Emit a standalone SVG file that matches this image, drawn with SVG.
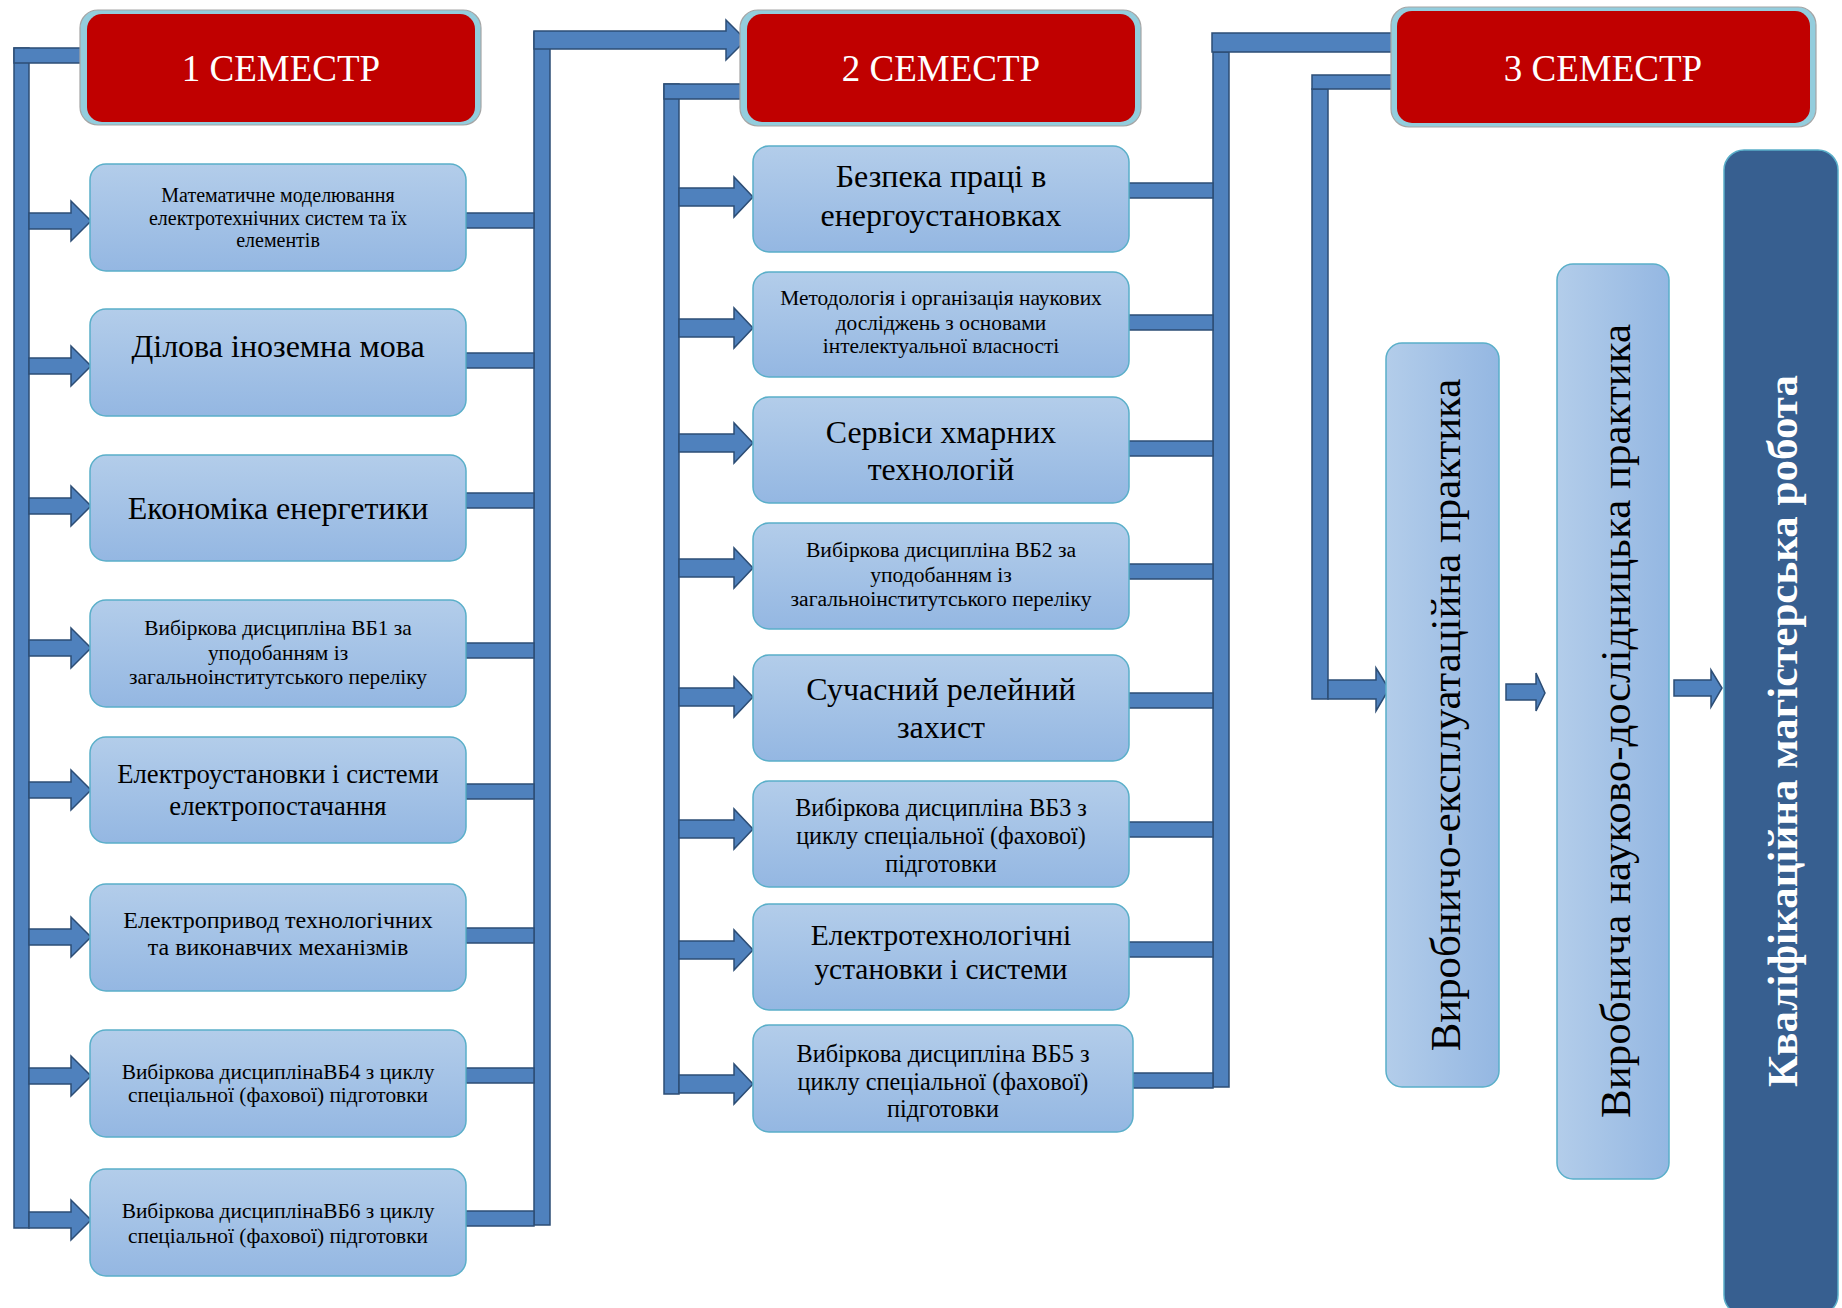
<svg xmlns="http://www.w3.org/2000/svg" width="1842" height="1308" viewBox="0 0 1842 1308">
<defs>
<linearGradient id="gv" x1="0" y1="0" x2="0" y2="1"><stop offset="0" stop-color="#B3CDEA"/><stop offset="1" stop-color="#94B7E2"/></linearGradient>
<linearGradient id="gh" x1="0" y1="0" x2="1" y2="0"><stop offset="0" stop-color="#B3CDEA"/><stop offset="1" stop-color="#94B7E2"/></linearGradient>
<style>
.bar{fill:#4F81BD;stroke:#2C4D75;stroke-width:1.5}
.box{fill:url(#gv);stroke:#5AAFC9;stroke-width:1.5}
.pbox{fill:url(#gh);stroke:#5AAFC9;stroke-width:1.5}
.ring{fill:#93CDDD;stroke:#A5A5A5;stroke-width:1.2}
.red{fill:#C00000}
.t{font-family:"Liberation Serif","Times New Roman",serif;fill:#000;text-anchor:middle}
.sem{font-family:"Liberation Serif","Times New Roman",serif;fill:#fff;text-anchor:middle;font-size:37px}
</style>
</defs>
<rect width="1842" height="1308" fill="#fff"/>

<g id="connectors">
<!-- column 1 left -->
<rect class="bar" x="14" y="48" width="15" height="1180"/>
<rect class="bar" x="14" y="48" width="72" height="15"/>
<path class="bar" d="M29,213H71V201L91,221L71,241V229H29Z"/>
<path class="bar" d="M29,358H71V346L91,366L71,386V374H29Z"/>
<path class="bar" d="M29,498H71V486L91,506L71,526V514H29Z"/>
<path class="bar" d="M29,640H71V628L91,648L71,668V656H29Z"/>
<path class="bar" d="M29,782H71V770L91,790L71,810V798H29Z"/>
<path class="bar" d="M29,929H71V917L91,937L71,957V945H29Z"/>
<path class="bar" d="M29,1068H71V1056L91,1076L71,1096V1084H29Z"/>
<path class="bar" d="M29,1212H71V1200L91,1220L71,1240V1228H29Z"/>
<!-- column 1 right -->
<rect class="bar" x="534" y="32" width="16" height="1193"/>
<rect class="bar" x="466" y="213" width="68" height="15"/>
<rect class="bar" x="466" y="353" width="68" height="15"/>
<rect class="bar" x="466" y="493" width="68" height="15"/>
<rect class="bar" x="466" y="643" width="68" height="15"/>
<rect class="bar" x="466" y="784" width="68" height="15"/>
<rect class="bar" x="466" y="928" width="68" height="15"/>
<rect class="bar" x="466" y="1068" width="68" height="15"/>
<rect class="bar" x="466" y="1211" width="68" height="15"/>
<path class="bar" d="M534,31H726V20L746,40L726,60V49H534Z"/>
<!-- column 2 left -->
<rect class="bar" x="664" y="84" width="15" height="1010"/>
<rect class="bar" x="664" y="84" width="84" height="15"/>
<path class="bar" d="M679,188H734V177L753,197L734,217V206H679Z"/>
<path class="bar" d="M679,319H734V308L753,328L734,348V337H679Z"/>
<path class="bar" d="M679,434H734V423L753,443L734,463V452H679Z"/>
<path class="bar" d="M679,559H734V548L753,568L734,588V577H679Z"/>
<path class="bar" d="M679,688H734V677L753,697L734,717V706H679Z"/>
<path class="bar" d="M679,820H734V809L753,829L734,849V838H679Z"/>
<path class="bar" d="M679,941H734V930L753,950L734,970V959H679Z"/>
<path class="bar" d="M679,1075H734V1064L753,1084L734,1104V1093H679Z"/>
<!-- column 2 right -->
<rect class="bar" x="1213" y="52" width="16" height="1035"/>
<rect class="bar" x="1212" y="33" width="184" height="19"/>
<rect class="bar" x="1129" y="183" width="84" height="15"/>
<rect class="bar" x="1129" y="315" width="84" height="15"/>
<rect class="bar" x="1129" y="441" width="84" height="15"/>
<rect class="bar" x="1129" y="564" width="84" height="15"/>
<rect class="bar" x="1129" y="693" width="84" height="15"/>
<rect class="bar" x="1129" y="822" width="84" height="15"/>
<rect class="bar" x="1129" y="942" width="84" height="15"/>
<rect class="bar" x="1133" y="1073" width="80" height="15"/>
<!-- semester 3 to practice -->
<rect class="bar" x="1312" y="89" width="16" height="610"/>
<rect class="bar" x="1312" y="75" width="84" height="14"/>
<path class="bar" d="M1328,680H1376V668L1389,689L1376,711V699H1328Z"/>
<path class="bar" d="M1506,684H1536V673L1545,693L1536,711V700H1506Z"/>
<path class="bar" d="M1674,680H1711V670L1722,688L1711,707V696H1674Z"/>
</g>

<g id="sem1"><rect class="ring" x="80" y="10" width="401" height="115" rx="18"/><rect class="red" x="87" y="14" width="388" height="108" rx="15"/><text class="sem" x="281" y="81">1 СЕМЕСТР</text></g>
<g id="sem2"><rect class="ring" x="740" y="10" width="401" height="116" rx="18"/><rect class="red" x="747" y="14" width="388" height="108" rx="15"/><text class="sem" x="941" y="81">2 СЕМЕСТР</text></g>
<g id="sem3"><rect class="ring" x="1391" y="7" width="425" height="120" rx="18"/><rect class="red" x="1397" y="11" width="413" height="112" rx="15"/><text class="sem" x="1603" y="81">3 СЕМЕСТР</text></g>

<g id="c1b1"><rect class="box" x="90" y="164" width="376" height="107" rx="16"/><text class="t" font-size="20"><tspan x="278" y="202">Математичне моделювання</tspan><tspan x="278" y="225">електротехнічних систем та їх</tspan><tspan x="278" y="247">елементів</tspan></text></g>
<g id="c1b2"><rect class="box" x="90" y="309" width="376" height="107" rx="16"/><text class="t" font-size="32" x="278" y="357">Ділова іноземна мова</text></g>
<g id="c1b3"><rect class="box" x="90" y="455" width="376" height="106" rx="16"/><text class="t" font-size="32" x="278" y="519">Економіка енергетики</text></g>
<g id="c1b4"><rect class="box" x="90" y="600" width="376" height="107" rx="16"/><text class="t" font-size="21.4"><tspan x="278" y="635">Вибіркова дисципліна ВБ1 за</tspan><tspan x="278" y="660">уподобанням із</tspan><tspan x="278" y="684">загальноінститутського переліку</tspan></text></g>
<g id="c1b5"><rect class="box" x="90" y="737" width="376" height="106" rx="16"/><text class="t" font-size="26.7"><tspan x="278" y="783">Електроустановки і системи</tspan><tspan x="278" y="815">електропостачання</tspan></text></g>
<g id="c1b6"><rect class="box" x="90" y="884" width="376" height="107" rx="16"/><text class="t" font-size="24"><tspan x="278" y="928">Електропривод технологічних</tspan><tspan x="278" y="955">та виконавчих механізмів</tspan></text></g>
<g id="c1b7"><rect class="box" x="90" y="1030" width="376" height="107" rx="16"/><text class="t" font-size="21.4"><tspan x="278" y="1079">Вибіркова дисциплінаВБ4 з циклу</tspan><tspan x="278" y="1102">спеціальної (фахової) підготовки</tspan></text></g>
<g id="c1b8"><rect class="box" x="90" y="1169" width="376" height="107" rx="16"/><text class="t" font-size="21.4"><tspan x="278" y="1218">Вибіркова дисциплінаВБ6 з циклу</tspan><tspan x="278" y="1243">спеціальної (фахової) підготовки</tspan></text></g>

<g id="c2b1"><rect class="box" x="753" y="146" width="376" height="106" rx="16"/><text class="t" font-size="32"><tspan x="941" y="187">Безпека праці в</tspan><tspan x="941" y="226">енергоустановках</tspan></text></g>
<g id="c2b2"><rect class="box" x="753" y="272" width="376" height="105" rx="16"/><text class="t" font-size="21.4"><tspan x="941" y="305">Методологія і організація наукових</tspan><tspan x="941" y="330">досліджень з основами</tspan><tspan x="941" y="353">інтелектуальної власності</tspan></text></g>
<g id="c2b3"><rect class="box" x="753" y="397" width="376" height="106" rx="16"/><text class="t" font-size="31.8"><tspan x="941" y="443">Сервіси хмарних</tspan><tspan x="941" y="480">технологій</tspan></text></g>
<g id="c2b4"><rect class="box" x="753" y="523" width="376" height="106" rx="16"/><text class="t" font-size="21.6"><tspan x="941" y="557">Вибіркова дисципліна ВБ2 за</tspan><tspan x="941" y="582">уподобанням із</tspan><tspan x="941" y="606">загальноінститутського переліку</tspan></text></g>
<g id="c2b5"><rect class="box" x="753" y="655" width="376" height="106" rx="16"/><text class="t" font-size="32"><tspan x="941" y="700">Сучасний релейний</tspan><tspan x="941" y="738">захист</tspan></text></g>
<g id="c2b6"><rect class="box" x="753" y="781" width="376" height="106" rx="16"/><text class="t" font-size="24.2"><tspan x="941" y="816">Вибіркова дисципліна ВБ3 з</tspan><tspan x="941" y="844">циклу спеціальної (фахової)</tspan><tspan x="941" y="872">підготовки</tspan></text></g>
<g id="c2b7"><rect class="box" x="753" y="904" width="376" height="106" rx="16"/><text class="t" font-size="29.4"><tspan x="941" y="945">Електротехнологічні</tspan><tspan x="941" y="979">установки і системи</tspan></text></g>
<g id="c2b8"><rect class="box" x="753" y="1025" width="380" height="107" rx="16"/><text class="t" font-size="24.3"><tspan x="943" y="1062">Вибіркова дисципліна ВБ5 з</tspan><tspan x="943" y="1090">циклу спеціальної (фахової)</tspan><tspan x="943" y="1117">підготовки</tspan></text></g>

<g id="prac1"><rect class="pbox" x="1386" y="343" width="113" height="744" rx="16"/><text class="t" font-size="42.8" x="1445" y="715" dy="15" transform="rotate(-90 1445 715)">Виробничо-експлуатаційна практика</text></g>
<g id="prac2"><rect class="pbox" x="1557" y="264" width="112" height="915" rx="16"/><text class="t" font-size="43" x="1615" y="721" dy="15" transform="rotate(-90 1615 721)">Виробнича науково-дослідницька практика</text></g>
<g id="thesis"><rect x="1724" y="150" width="114" height="1165" rx="20" fill="#375F90" stroke="#5AAFC9" stroke-width="1.5"/><text class="t" font-size="43" font-weight="bold" style="fill:#fff" x="1782" y="731" dy="15" transform="rotate(-90 1782 731)">Кваліфікаційна магістерська робота</text></g>
</svg>
